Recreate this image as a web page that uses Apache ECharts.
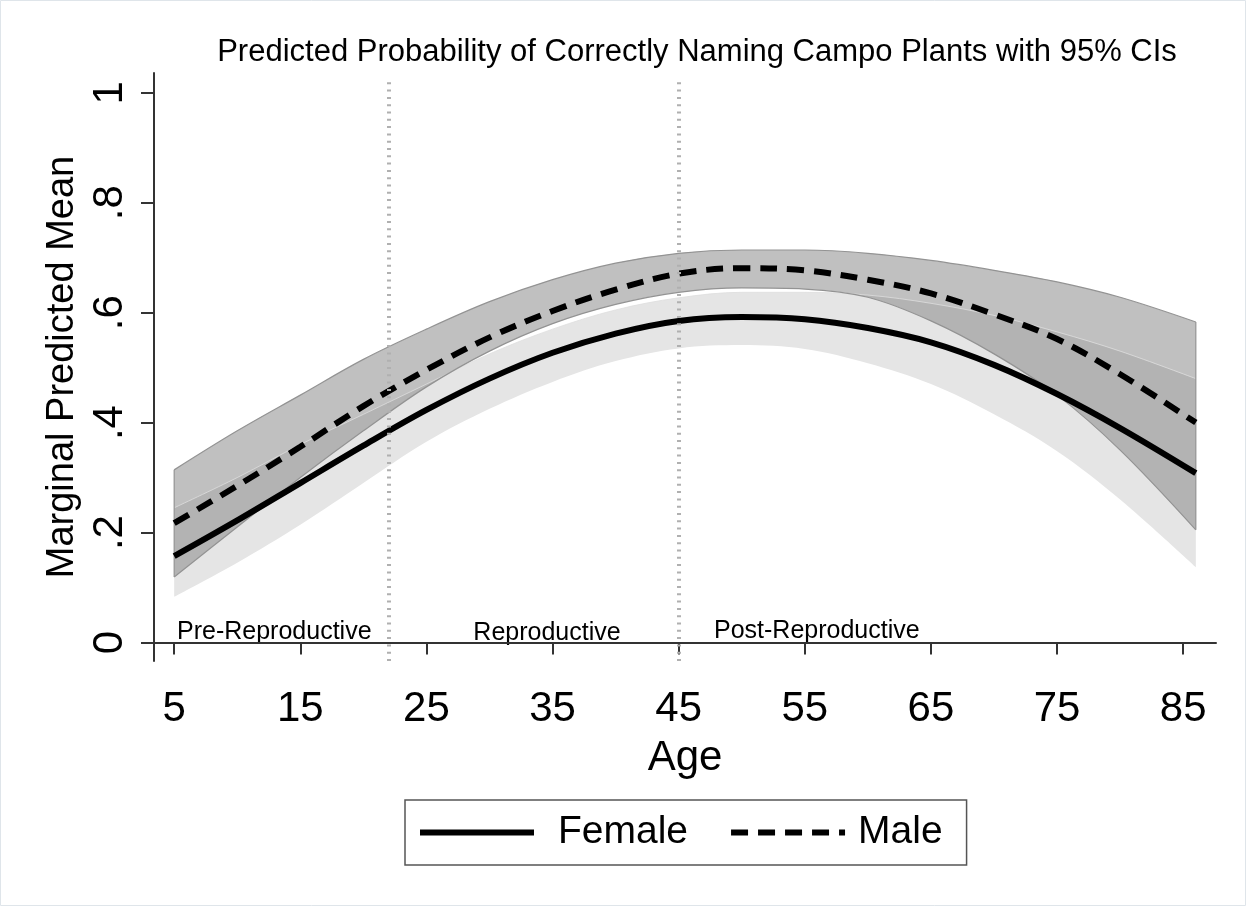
<!DOCTYPE html>
<html>
<head>
<meta charset="utf-8">
<script src="https://cdn.jsdelivr.net/npm/echarts@6/dist/echarts.min.js"></script>
<style>
html,body{margin:0;padding:0;background:#fff;}
#chart{width:1247px;height:909px;}
</style>
</head>
<body>
<div id="chart"></div>
<script>
// ---- data ----
const ages       = [5, 10, 15, 20, 25, 30, 35, 40, 45, 50, 55, 60, 65, 70, 75, 80, 86];
const femaleMean = [0.157, 0.222, 0.290, 0.358, 0.423, 0.480, 0.527, 0.562, 0.585, 0.592, 0.588, 0.572, 0.546, 0.505, 0.452, 0.390, 0.308];
const femaleLow  = [0.083, 0.145, 0.214, 0.290, 0.365, 0.425, 0.474, 0.512, 0.535, 0.541, 0.534, 0.508, 0.470, 0.415, 0.348, 0.260, 0.137];
const femaleHigh = [0.245, 0.300, 0.360, 0.415, 0.470, 0.525, 0.570, 0.605, 0.627, 0.637, 0.637, 0.632, 0.617, 0.595, 0.565, 0.530, 0.480];
const maleMean   = [0.217, 0.285, 0.356, 0.430, 0.496, 0.555, 0.603, 0.642, 0.671, 0.681, 0.677, 0.660, 0.635, 0.597, 0.552, 0.488, 0.400];
const maleLow    = [0.119, 0.210, 0.300, 0.385, 0.465, 0.530, 0.580, 0.615, 0.637, 0.645, 0.643, 0.628, 0.585, 0.525, 0.450, 0.350, 0.205];
const maleHigh   = [0.314, 0.385, 0.450, 0.515, 0.570, 0.620, 0.660, 0.690, 0.708, 0.714, 0.714, 0.708, 0.695, 0.677, 0.656, 0.628, 0.583];

const xTickValues = [5, 15, 25, 35, 45, 55, 65, 75, 85];
const yTickValues = [0, 0.2, 0.4, 0.6, 0.8, 1];
const yTickLabels = ['0', '.2', '.4', '.6', '.8', '1'];

const zoneBounds = [22, 45];
const zoneLineTop = 1.024;
const zoneNames = ['Pre-Reproductive', 'Reproductive', 'Post-Reproductive'];

const titleText = 'Predicted Probability of Correctly Naming Campo Plants with 95% CIs';
const xName = 'Age';
const yName = 'Marginal Predicted Mean';
const seriesNames = ['Female', 'Male'];

// ---- chart ----
const FONT = "'Liberation Sans', Arial, Helvetica, sans-serif";
const X_MIN = 3.4, X_MAX = 87.6, Y_MIN = -0.0337, Y_MAX = 1.036;

const pair = (xs, ys) => xs.map((x, i) => [x, ys[i]]);
// value first, age second (encode swaps them) so that stacking happens on the y value
const vFirst = (vals) => ages.map((x, i) => [vals[i], x]);
const diffFirst = (hi, lo) => ages.map((x, i) => [+(hi[i] - lo[i]).toFixed(4), x]);
const swapEncode = {x: 1, y: 0};

const chart = echarts.init(document.getElementById('chart'), null, {renderer: 'canvas'});

const lastI = ages.length - 1;
const smooth = 0.35;
const BAND_EDGE = '#939393';

const iconSolid = 'path://M0,0h114v6h-114z';
const iconDash = 'path://M0,0h17v6h-17z M27,0h17v6h-17z M54,0h17v6h-17z M81,0h17v6h-17z M108,0h6v6h-6z';

const option = {
  animation: false,
  backgroundColor: '#fff',
  grid: {left: 154, right: 31, top: 73, bottom: 248, containLabel: false},
  xAxis: {
    type: 'value', min: X_MIN, max: X_MAX,
    name: xName, nameLocation: 'middle', nameGap: 76,
    nameTextStyle: {fontFamily: FONT, fontSize: 42, color: '#000'},
    axisLine: {show: true, lineStyle: {color: '#333', width: 2}},
    axisTick: {show: true, length: 12, lineStyle: {color: '#333', width: 2}, customValues: xTickValues},
    axisLabel: {fontFamily: FONT, fontSize: 42, color: '#000', margin: 27, customValues: xTickValues},
    splitLine: {show: false}
  },
  yAxis: {
    type: 'value', min: Y_MIN, max: Y_MAX,
    name: yName, nameLocation: 'middle', nameGap: 72, nameRotate: 90,
    nameTextStyle: {fontFamily: FONT, fontSize: 38, color: '#000'},
    axisLine: {show: true, lineStyle: {color: '#333', width: 2}},
    axisTick: {show: true, length: 13, lineStyle: {color: '#333', width: 2}, customValues: yTickValues},
    axisLabel: {
      fontFamily: FONT, fontSize: 42, color: '#000', margin: 23, rotate: 90,
      customValues: yTickValues,
      formatter: v => {
        const i = yTickValues.findIndex(t => Math.abs(t - v) < 1e-6);
        return i >= 0 ? yTickLabels[i] : '';
      }
    },
    splitLine: {show: false}
  },
  legend: {
    data: [
      {name: seriesNames[0], icon: iconSolid, textStyle: {padding: [0, 0, 0, 19]}},
      {name: seriesNames[1], icon: iconDash, textStyle: {padding: [0, 0, 0, 8]}}
    ],
    left: 405, top: 800,
    padding: [13, 24, 13, 15],
    itemWidth: 114, itemHeight: 6, itemGap: 43,
    itemStyle: {color: '#000', borderWidth: 0},
    borderColor: '#555', borderWidth: 1.5,
    textStyle: {fontFamily: FONT, fontSize: 39, color: '#000'},
    selectedMode: false
  },
  graphic: [
    {type: 'rect', shape: {x: 0.5, y: 0.5, width: 1245, height: 905}, style: {fill: 'none', stroke: '#dfe5ea', lineWidth: 1}, silent: true},
    {type: 'text', x: 697, y: 52, style: {text: titleText, font: `31px ${FONT}`, fill: '#000', align: 'center', verticalAlign: 'middle'}, silent: true},
    {type: 'text', x: 177, y: 632, style: {text: zoneNames[0], font: `25px ${FONT}`, fill: '#000', align: 'left', verticalAlign: 'middle'}, silent: true},
    {type: 'text', x: 547, y: 633, style: {text: zoneNames[1], font: `25px ${FONT}`, fill: '#000', align: 'center', verticalAlign: 'middle'}, silent: true},
    {type: 'text', x: 714, y: 631, style: {text: zoneNames[2], font: `25px ${FONT}`, fill: '#000', align: 'left', verticalAlign: 'middle'}, silent: true}
  ],
  series: [
    // zone boundary lines
    {
      name: 'zones', type: 'line', data: [], z: 1, silent: true,
      markLine: {
        silent: true, symbol: ['none', 'none'], label: {show: false},
        lineStyle: {color: '#b0b0b0', width: 4, type: [2, 5.3]},
        data: zoneBounds.map(b => [{coord: [b, Y_MIN]}, {coord: [b, zoneLineTop]}])
      }
    },
    // female CI band
    {
      name: 'fLow', type: 'line', stack: 'fband', data: vFirst(femaleLow), encode: swapEncode,
      symbol: 'none', smooth: smooth, lineStyle: {width: 0, opacity: 0}, z: 2, silent: true
    },
    {
      name: 'fBand', type: 'line', stack: 'fband', data: diffFirst(femaleHigh, femaleLow), encode: swapEncode,
      symbol: 'none', smooth: smooth, lineStyle: {width: 0.8, color: '#dedede'},
      areaStyle: {color: '#e5e5e5', opacity: 1}, z: 2, silent: true
    },
    // male CI band
    {
      name: 'mLow', type: 'line', stack: 'mband', data: vFirst(maleLow), encode: swapEncode,
      symbol: 'none', smooth: smooth, lineStyle: {width: 1.2, color: BAND_EDGE}, z: 2, silent: true
    },
    {
      name: 'mBand', type: 'line', stack: 'mband', data: diffFirst(maleHigh, maleLow), encode: swapEncode,
      symbol: 'none', smooth: smooth, lineStyle: {width: 1.2, color: BAND_EDGE},
      areaStyle: {color: 'rgb(130,130,130)', opacity: 0.5}, z: 2, silent: true
    },
    {
      name: 'mEdgeL', type: 'line', data: [[ages[0], maleLow[0]], [ages[0], maleHigh[0]]],
      symbol: 'none', lineStyle: {width: 1.2, color: BAND_EDGE}, z: 2, silent: true
    },
    {
      name: 'mEdgeR', type: 'line', data: [[ages[lastI], maleLow[lastI]], [ages[lastI], maleHigh[lastI]]],
      symbol: 'none', lineStyle: {width: 1.2, color: BAND_EDGE}, z: 2, silent: true
    },
    // mean curves
    {
      name: seriesNames[0], type: 'line', data: pair(ages, femaleMean),
      symbol: 'none', smooth: smooth, color: '#000',
      lineStyle: {width: 6, color: '#000', cap: 'butt'}, z: 3
    },
    {
      name: seriesNames[1], type: 'line', data: pair(ages, maleMean),
      symbol: 'none', smooth: smooth, color: '#000',
      lineStyle: {width: 6, color: '#000', type: [17, 10], cap: 'butt'}, z: 3
    }
  ]
};

chart.setOption(option);
</script>
</body>
</html>
